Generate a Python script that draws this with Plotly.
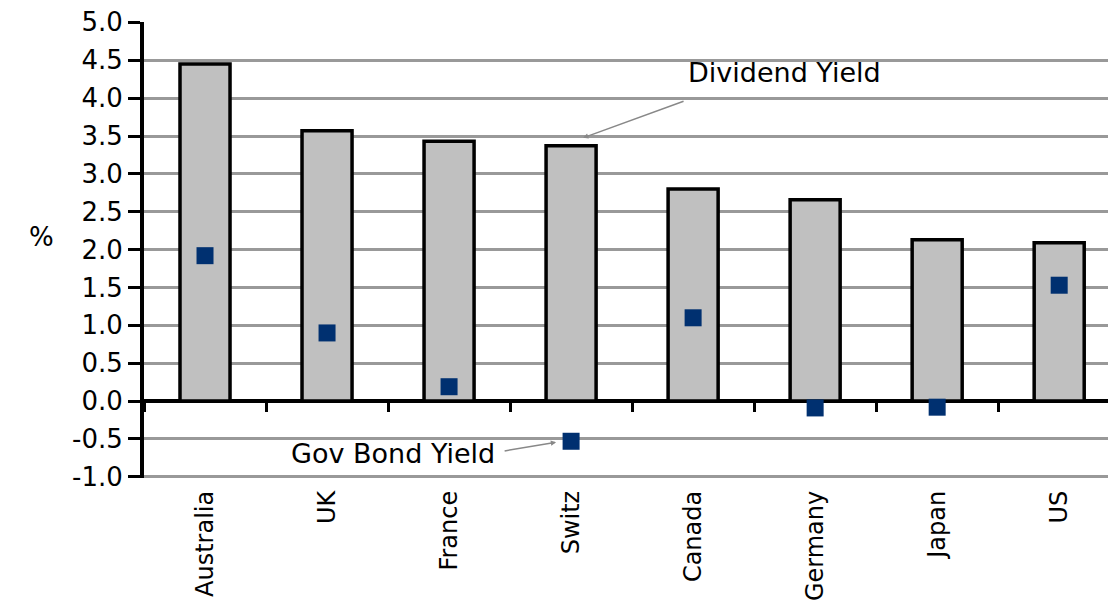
import plotly.graph_objects as go

countries = ["Australia", "UK", "France", "Switz", "Canada", "Germany", "Japan", "US"]
dividend_yield = [4.45, 3.57, 3.43, 3.37, 2.80, 2.66, 2.13, 2.09]
gov_bond_yield = [1.92, 0.90, 0.19, -0.53, 1.10, -0.09, -0.08, 1.53]
y_tick_vals = [-1.0, -0.5, 0.0, 0.5, 1.0, 1.5, 2.0, 2.5, 3.0, 3.5, 4.0, 4.5, 5.0]
y_tick_text = ["-1.0", "-0.5", "0.0", "0.5", "1.0", "1.5", "2.0", "2.5", "3.0", "3.5", "4.0", "4.5", "5.0"]

FONT = "DejaVu Sans"
xr = [-0.5, 7.4]
yr = [-1.015, 5.005]

fig = go.Figure()
fig.add_trace(go.Bar(
    x=countries, y=dividend_yield, name="Dividend Yield",
    marker=dict(color="#C0C0C0", line=dict(color="black", width=3.5)),
    width=0.41, xaxis="x", yaxis="y",
))
fig.add_trace(go.Scatter(
    x=countries, y=gov_bond_yield, name="Gov Bond Yield", mode="markers",
    marker=dict(symbol="square", size=17, color="#003070"),
    xaxis="x2", yaxis="y",
))

fig.update_layout(
    width=1108, height=607,
    margin=dict(l=144, r=0, t=22, b=129, autoexpand=False),
    paper_bgcolor="white", plot_bgcolor="white",
    showlegend=False,
    font=dict(family=FONT, size=26, color="black"),
    xaxis=dict(
        type="category", categoryorder="array", categoryarray=countries,
        range=xr, showgrid=False, showline=False, zeroline=False, automargin=False,
        ticks="", tickangle=-90, tickfont=dict(family=FONT, size=24, color="black"),
        ticklabelstandoff=7,
    ),
    xaxis2=dict(
        type="category", categoryorder="array", categoryarray=countries,
        range=xr, overlaying="x", anchor="free",
        position=(0 - yr[0]) / (yr[1] - yr[0]), side="bottom",
        showgrid=False, showline=False, zeroline=False, showticklabels=False,
        automargin=False,
        ticks="outside", ticklen=10, tickwidth=3, tickcolor="black",
        tickson="boundaries",
    ),
    yaxis=dict(
        range=yr, tickvals=y_tick_vals, ticktext=y_tick_text, automargin=False,
        showgrid=True, gridcolor="#999999", gridwidth=3,
        zeroline=True, zerolinecolor="black", zerolinewidth=3.5,
        showline=True, linecolor="black", linewidth=4,
        ticks="outside", ticklen=12, tickwidth=3, tickcolor="black",
        tickfont=dict(family=FONT, size=26, color="black"),
    ),
    annotations=[
        dict(text="%", xref="paper", yref="paper", x=-0.121, y=0.529,
             showarrow=False, font=dict(family=FONT, size=26, color="black")),
        dict(text="Dividend Yield", xref="x", yref="y", x=4.746, y=4.335,
             showarrow=False, font=dict(family=FONT, size=27, color="black")),
        dict(text="", xref="x", yref="y", x=3.098, y=3.476,
             axref="x", ayref="y", ax=3.934, ay=3.965,
             showarrow=True, arrowhead=2, arrowsize=0.7, arrowwidth=1.5, arrowcolor="#888888"),
        dict(text="Gov Bond Yield", xref="x", yref="y", x=1.541, y=-0.687,
             showarrow=False, font=dict(family=FONT, size=27, color="black")),
        dict(text="", xref="x", yref="y", x=2.877, y=-0.542,
             axref="x", ayref="y", ax=2.443, ay=-0.661,
             showarrow=True, arrowhead=2, arrowsize=0.7, arrowwidth=1.5, arrowcolor="#888888"),
    ],
)

fig.write_html("out.html")
